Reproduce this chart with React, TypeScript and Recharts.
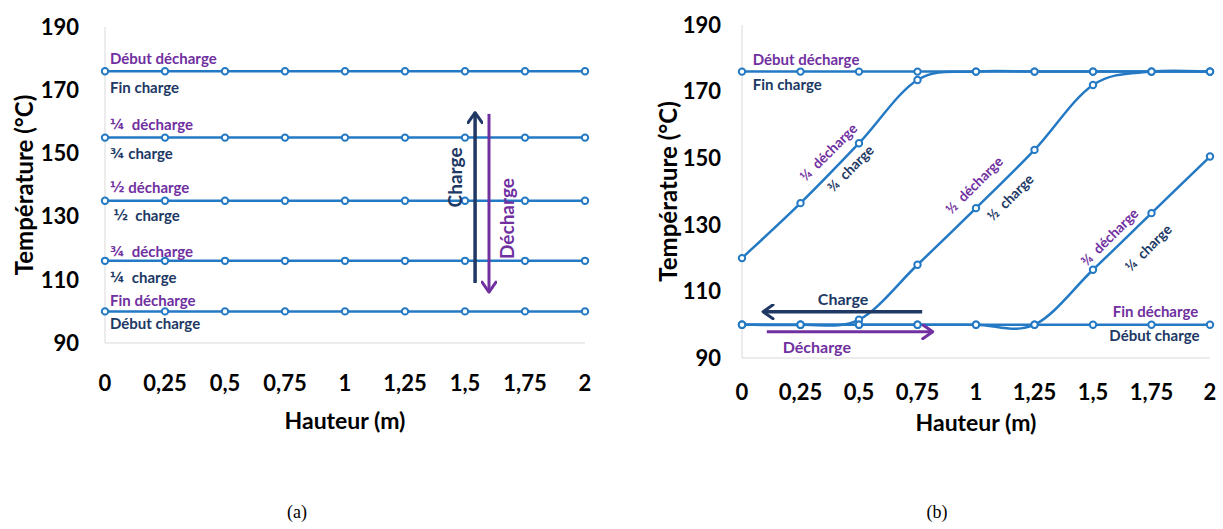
import React from 'react';
import { LineChart, Line, XAxis, YAxis, Label, ReferenceLine, ReferenceDot } from 'recharts';

const BLUE = '#2479C4';
const NAVY = '#203864';
const PURPLE = '#7030A0';
const AXIS = '#D9D9D9';
const FONT = 'Lato, "Open Sans", sans-serif';

// hauteur (m)
const heights = [0, 0.25, 0.5, 0.75, 1, 1.25, 1.5, 1.75, 2];
const tempTicks = [90, 110, 130, 150, 170, 190];

// (a) stratification parfaite
const aStart = [176, 176, 176, 176, 176, 176, 176, 176, 176];
const aQuarter = [155, 155, 155, 155, 155, 155, 155, 155, 155];
const aHalf = [135, 135, 135, 135, 135, 135, 135, 135, 135];
const aThreeQuarter = [116, 116, 116, 116, 116, 116, 116, 116, 116];
const aEnd = [100, 100, 100, 100, 100, 100, 100, 100, 100];

// (b) thermocline
const bStart = [176, 176, 176, 176, 176, 176, 176, 176, 176];
const bQuarter = [120, 136.5, 154.5, 173.5, 176, 176, 176, 176, 176];
const bHalf = [100, 100, 101.5, 118, 135, 152.5, 172, 176, 176];
const bThreeQuarter = [100, 100, 100, 100, 100, 100, 116.5, 133.5, 150.5];
const bEnd = [100, 100, 100, 100, 100, 100, 100, 100, 100];

const rowsA = heights.map((h, i) => ({
  h,
  s0: aStart[i],
  s1: aQuarter[i],
  s2: aHalf[i],
  s3: aThreeQuarter[i],
  s4: aEnd[i],
}));

const rowsB = heights.map((h, i) => ({
  h,
  s0: bStart[i],
  s1: bQuarter[i],
  s2: bHalf[i],
  s3: bThreeQuarter[i],
  s4: bEnd[i],
}));

const keys = ['s0', 's1', 's2', 's3', 's4'];

type NoteDef = {
  text: string;
  color: string;
  h: number;
  t: number;
  anchor?: string;
  angle?: number;
  size?: number;
  bigFrac?: boolean;
};

const notesA: NoteDef[] = [
  { text: 'Début décharge', color: PURPLE, h: 0.021, t: 180.1 },
  { text: 'Fin charge', color: NAVY, h: 0.021, t: 171.1 },
  { text: '¼\u00a0 décharge', color: PURPLE, h: 0.021, t: 159.3, bigFrac: true },
  { text: '¾ charge', color: NAVY, h: 0.021, t: 150, bigFrac: true },
  { text: '½ décharge', color: PURPLE, h: 0.021, t: 139.5, bigFrac: true },
  { text: '½\u00a0 charge', color: NAVY, h: 0.035, t: 130.5, bigFrac: true },
  { text: '¾\u00a0 décharge', color: PURPLE, h: 0.021, t: 119.1, bigFrac: true },
  { text: '¼\u00a0 charge', color: NAVY, h: 0.021, t: 111, bigFrac: true },
  { text: 'Fin décharge', color: PURPLE, h: 0.021, t: 103.6 },
  { text: 'Début charge', color: NAVY, h: 0.021, t: 96.2 },
  { text: 'Charge', color: NAVY, h: 1.458, t: 142.4, anchor: 'middle', angle: -90, size: 19 },
  { text: 'Décharge', color: PURPLE, h: 1.671, t: 129.4, anchor: 'middle', angle: -90, size: 19 },
];

const notesB: NoteDef[] = [
  { text: 'Début décharge', color: PURPLE, h: 0.046, t: 179.7 },
  { text: 'Fin charge', color: NAVY, h: 0.046, t: 172.2 },
  { text: '¼\u00a0 décharge', color: PURPLE, h: 0.368, t: 151.9, anchor: 'middle', angle: -45, size: 14 },
  { text: '¾\u00a0 charge', color: NAVY, h: 0.462, t: 147, anchor: 'middle', angle: -45, size: 14 },
  { text: '½\u00a0 décharge', color: PURPLE, h: 0.991, t: 142, anchor: 'middle', angle: -45, size: 14 },
  { text: '½\u00a0 charge', color: NAVY, h: 1.145, t: 138.3, anchor: 'middle', angle: -45, size: 14 },
  { text: '¾\u00a0 décharge', color: PURPLE, h: 1.569, t: 126.4, anchor: 'middle', angle: -45, size: 14 },
  { text: '¼\u00a0 charge', color: NAVY, h: 1.735, t: 123.2, anchor: 'middle', angle: -45, size: 14 },
  { text: 'Fin décharge', color: PURPLE, h: 1.95, t: 104, anchor: 'end' },
  { text: 'Début charge', color: NAVY, h: 1.955, t: 96.9, anchor: 'end' },
  { text: 'Charge', color: NAVY, h: 0.432, t: 108, anchor: 'middle', size: 16 },
  { text: 'Décharge', color: PURPLE, h: 0.32, t: 93.4, anchor: 'middle', size: 16 },
];

const fmt = (v: number) => String(v).replace('.', ',');

const tickStyle = { fontSize: 22, fontWeight: 700, fill: '#000', fontFamily: FONT };

// Excel-like smoothed line (Catmull-Rom through every point)
const excelSmooth = (context: any) => {
  let pts: number[][] = [];
  return {
    areaStart() {},
    areaEnd() {},
    lineStart() {
      pts = [];
    },
    point(x: number, y: number) {
      pts.push([+x, +y]);
    },
    lineEnd() {
      const n = pts.length;
      if (!n) return;
      context.moveTo(pts[0][0], pts[0][1]);
      for (let i = 0; i < n - 1; i++) {
        const p0 = pts[Math.max(i - 1, 0)];
        const p1 = pts[i];
        const p2 = pts[i + 1];
        const p3 = pts[Math.min(i + 2, n - 1)];
        context.bezierCurveTo(
          p1[0] + (p2[0] - p0[0]) / 6,
          p1[1] + (p2[1] - p0[1]) / 6,
          p2[0] - (p3[0] - p1[0]) / 6,
          p2[1] - (p3[1] - p1[1]) / 6,
          p2[0],
          p2[1],
        );
      }
    },
  };
};

function Note(props: any) {
  const { n } = props;
  const vb = props.viewBox || props;
  const x = vb.x + (vb.width || 0) / 2;
  const y = vb.y + (vb.height || 0) / 2;
  const size = n.size || 15;
  const body = n.bigFrac ? (
    <>
      <tspan fontFamily='"DejaVu Sans", sans-serif' fontSize={size - 1}>{n.text.slice(0, 1)}</tspan>
      <tspan>{n.text.slice(1)}</tspan>
    </>
  ) : (
    n.text
  );
  return (
    <text
      x={x}
      y={y}
      fill={n.color}
      fontSize={size}
      fontWeight={700}
      fontFamily={FONT}
      textAnchor={n.anchor || 'start'}
      dominantBaseline="central"
      transform={n.angle ? `rotate(${n.angle} ${x} ${y})` : undefined}
    >
      {body}
    </text>
  );
}

function XTitle(props: any) {
  const vb = props.viewBox;
  return (
    <text x={vb.x + vb.width / 2} y={vb.y + props.dy} textAnchor="middle" dominantBaseline="central"
      fontSize={23} fontWeight={700} fontFamily={FONT} fill="#000">
      Hauteur (m)
    </text>
  );
}

function YTitle(props: any) {
  const vb = props.viewBox;
  const x = vb.x + props.cx;
  const y = vb.y + vb.height / 2;
  return (
    <text x={x} y={y} textAnchor="middle" dominantBaseline="central" transform={`rotate(-90 ${x} ${y})`}
      fontSize={24} fontWeight={700} fontFamily={FONT} fill="#000">
      Température (°C)
    </text>
  );
}

const renderNotes = (list: NoteDef[]) =>
  list.map((n, i) => (
    <ReferenceDot key={'n' + i} x={n.h} y={n.t} r={0} fill="none" stroke="none" ifOverflow="visible"
      label={(p: any) => <Note {...p} n={n} />} />
  ));

const renderSeries = (smooth: boolean) =>
  keys.map((k) => (
    <Line
      key={k}
      dataKey={k}
      type={smooth ? (excelSmooth as any) : 'linear'}
      stroke={BLUE}
      strokeWidth={2.5}
      dot={{ r: 3.2, fill: '#fff', stroke: BLUE, strokeWidth: 2 }}
      activeDot={false}
      isAnimationActive={false}
    />
  ));

function ChartA() {
  return (
    <LineChart width={620} height={440} data={rowsA} margin={{ top: 27, right: 35, left: 0, bottom: 0 }}>
      <XAxis dataKey="h" type="number" domain={[0, 2]} ticks={heights} interval={0} tickFormatter={fmt}
        height={97} tickLine={false} tickSize={0} tickMargin={32} axisLine={{ stroke: AXIS }} tick={tickStyle}>
        <Label content={(p: any) => <XTitle {...p} dy={77} />} />
      </XAxis>
      <YAxis type="number" domain={[90, 190]} ticks={tempTicks} width={105} tickLine={false} tickSize={0}
        tickMargin={26} axisLine={{ stroke: AXIS }} tick={tickStyle}>
        <Label content={(p: any) => <YTitle {...p} cx={23} />} />
      </YAxis>
      {renderSeries(false)}
      <ReferenceLine segment={[{ x: 1.542, y: 109 }, { x: 1.542, y: 162.9 }]} stroke={NAVY} strokeWidth={3.5}
        markerEnd="url(#arrNavy)" ifOverflow="visible" />
      <ReferenceLine segment={[{ x: 1.6, y: 162.5 }, { x: 1.6, y: 106.1 }]} stroke={PURPLE} strokeWidth={3}
        markerEnd="url(#arrPurple)" ifOverflow="visible" />
      {renderNotes(notesA)}
    </LineChart>
  );
}

function ChartB() {
  return (
    <LineChart width={603} height={440} data={rowsB} margin={{ top: 25, right: 13, left: 0, bottom: 0 }}>
      <XAxis dataKey="h" type="number" domain={[0, 2]} ticks={heights} interval={0} tickFormatter={fmt}
        height={82} tickLine={false} tickSize={0} tickMargin={26} axisLine={{ stroke: AXIS }} tick={tickStyle}>
        <Label content={(p: any) => <XTitle {...p} dy={64} />} />
      </XAxis>
      <YAxis type="number" domain={[90, 190]} ticks={tempTicks} width={122} tickLine={false} tickSize={0}
        tickMargin={21} axisLine={{ stroke: AXIS }} tick={tickStyle}>
        <Label content={(p: any) => <YTitle {...p} cx={47} />} />
      </YAxis>
      {renderSeries(true)}
      <ReferenceLine segment={[{ x: 0.77, y: 103.9 }, { x: 0.09, y: 103.9 }]} stroke={NAVY} strokeWidth={3.5}
        markerEnd="url(#arrNavy)" ifOverflow="visible" />
      <ReferenceLine segment={[{ x: 0.106, y: 97.9 }, { x: 0.815, y: 97.9 }]} stroke={PURPLE} strokeWidth={3}
        markerEnd="url(#arrPurple)" ifOverflow="visible" />
      {renderNotes(notesB)}
    </LineChart>
  );
}

export default function App() {
  return (
    <div style={{ position: 'absolute', left: 0, top: 0, width: 1223, height: 529, background: '#fff', overflow: 'hidden' }}>
      <svg width={0} height={0} style={{ position: 'absolute' }}>
        <defs>
          <marker id="arrNavy" viewBox="0 0 16 16" refX={12} refY={8} markerWidth={16} markerHeight={16}
            markerUnits="userSpaceOnUse" orient="auto">
            <path d="M2,1 L12,8 L2,15" fill="none" stroke={NAVY} strokeWidth={3} strokeLinecap="round" strokeLinejoin="round" />
          </marker>
          <marker id="arrPurple" viewBox="0 0 16 16" refX={12} refY={8} markerWidth={16} markerHeight={16}
            markerUnits="userSpaceOnUse" orient="auto">
            <path d="M2,1 L12,8 L2,15" fill="none" stroke={PURPLE} strokeWidth={3} strokeLinecap="round" strokeLinejoin="round" />
          </marker>
        </defs>
      </svg>
      <div style={{ position: 'absolute', left: 0, top: 0 }}>
        <ChartA />
      </div>
      <div style={{ position: 'absolute', left: 620, top: 0 }}>
        <ChartB />
      </div>
      <div style={{ position: 'absolute', left: 267, top: 502, width: 60, textAlign: 'center', fontFamily: '"Liberation Serif", serif', fontSize: 18 }}>
        (a)
      </div>
      <div style={{ position: 'absolute', left: 907, top: 502, width: 60, textAlign: 'center', fontFamily: '"Liberation Serif", serif', fontSize: 18 }}>
        (b)
      </div>
    </div>
  );
}
